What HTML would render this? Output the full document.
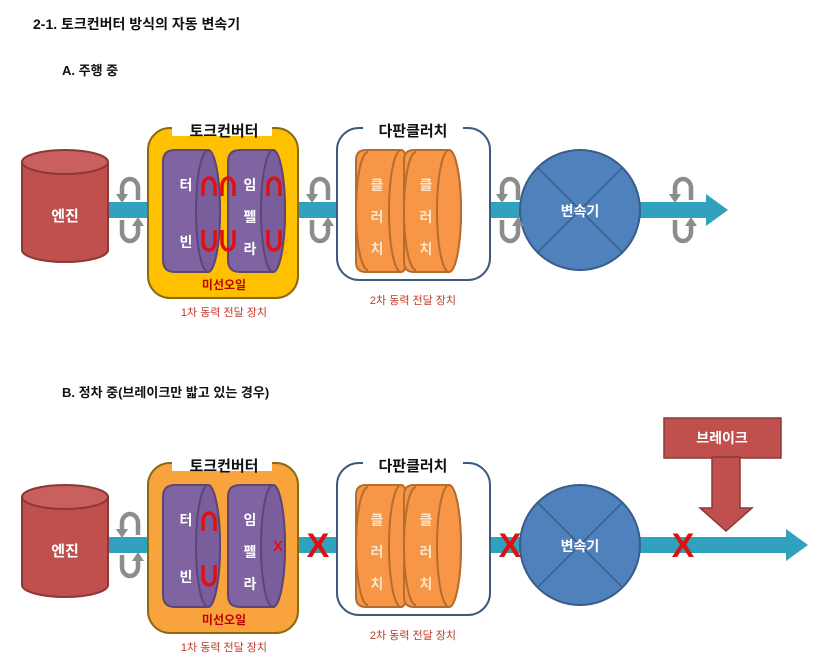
<!DOCTYPE html>
<html><head><meta charset="utf-8"><style>
body{margin:0;background:#fff;}
svg{display:block;font-family:"Liberation Sans","Noto Sans CJK KR",sans-serif;}
</style></head><body>
<svg width="823" height="667" viewBox="0 0 823 667" xmlns="http://www.w3.org/2000/svg">
<defs>
<g id="curl">
 <path d="M8,-10 L8,-22 A8,9 0 0 0 -8,-22 L-8,-16" fill="none" stroke="#8c8c8c" stroke-width="4.5"/>
 <path d="M-14,-16 L-8,-7 L-2,-16z" fill="#8c8c8c"/>
 <path d="M-8,10 L-8,22 A8,9 0 0 0 8,22 L8,16" fill="none" stroke="#8c8c8c" stroke-width="4.5"/>
 <path d="M2,16 L8,7 L14,16z" fill="#8c8c8c"/>
</g>
<g id="engine">
 <path d="M22,162 L22,250 A43,12 0 0 0 108,250 L108,162z" fill="#c0504d" stroke="#8c3836" stroke-width="2"/>
 <ellipse cx="65" cy="162" rx="43" ry="12" fill="#c9605d" stroke="#8c3836" stroke-width="2"/>
 <text x="65" y="221" fill="#fff" font-size="15" font-weight="bold" text-anchor="middle">엔진</text>
</g>
<g id="disc">
 <path d="M12,0 L45,0 A12,61 0 0 1 45,122 L12,122 Q0,122 0,110 L0,12 Q0,0 12,0z" fill="#8064a2" stroke="#5c4677" stroke-width="2"/>
 <ellipse cx="45" cy="61" rx="12" ry="61" fill="#7a5e9c" stroke="#5c4677" stroke-width="2"/>
</g>
<g id="cdisc">
 <path d="M10,0 L45,0 A12,61 0 0 1 45,122 L10,122 Q0,122 0,112 L0,10 Q0,0 10,0z" fill="#f79646" stroke="#b66d2d" stroke-width="2"/>
 <path d="M12,2 A12,59 0 0 0 12,120" fill="none" stroke="#b66d2d" stroke-width="2"/>
 <ellipse cx="45" cy="61" rx="12" ry="61" fill="#f79646" stroke="#b66d2d" stroke-width="2"/>
</g>
<g id="clutchbox">
 <rect x="337" y="128" width="153" height="152" rx="22" fill="#fff" stroke="#3c5a7e" stroke-width="2"/>
 <rect x="363" y="120" width="100" height="16" fill="#fff"/>
 <text x="413" y="136" font-size="15" font-weight="bold" text-anchor="middle" fill="#111">다판클러치</text>
 <use href="#cdisc" x="356" y="150"/>
 <use href="#cdisc" x="404" y="150"/>
 <g fill="#fde4cc" font-size="14" font-weight="bold" text-anchor="middle">
 <text x="377" y="190">클</text><text x="377" y="222">러</text><text x="377" y="254">치</text>
 <text x="426" y="190">클</text><text x="426" y="222">러</text><text x="426" y="254">치</text></g>
 <text x="413" y="304" font-size="11" fill="#c0392b" text-anchor="middle">2차 동력 전달 장치</text>
</g>
<g id="trans">
 <circle cx="580" cy="210" r="60" fill="#4f81bd" stroke="#385d8a" stroke-width="2"/>
 <path d="M538,168 L622,252 M622,168 L538,252" stroke="#385d8a" stroke-width="1.5"/>
 <text x="580" y="216" font-size="14" font-weight="bold" fill="#fff" text-anchor="middle">변속기</text>
</g>
</defs>

<text x="33" y="29" font-size="14" font-weight="bold" fill="#111">2-1. 토크컨버터 방식의 자동 변속기</text>
<text x="62" y="75" font-size="13" font-weight="bold" fill="#111">A. 주행 중</text>
<text x="62" y="397" font-size="13" font-weight="bold" fill="#111">B. 정차 중(브레이크만 밟고 있는 경우)</text>

<!-- A -->
<g>
 <rect x="108" y="202" width="600" height="16" fill="#31a2bd"/>
 <path d="M706,194 L728,210 L706,226z" fill="#31a2bd"/>
 <use href="#engine"/>
 <rect x="148" y="128" width="150" height="170" rx="22" fill="#ffc000" stroke="#8a6a10" stroke-width="2"/>
 <rect x="172" y="120" width="100" height="16" fill="#fff"/>
 <text x="224" y="136" font-size="15" font-weight="bold" text-anchor="middle" fill="#111">토크컨버터</text>
 <use href="#disc" x="163" y="150"/>
 <use href="#disc" x="228" y="150"/>
 <g fill="#fff" font-size="14" font-weight="bold" text-anchor="middle">
 <text x="186" y="190">터</text><text x="186" y="247">빈</text>
 <text x="250" y="190">임</text><text x="250" y="222">펠</text><text x="250" y="254">라</text></g>
 <g fill="none" stroke="#e01010" stroke-width="3.5">
 <path d="M203,196 L203,186 A6,8 0 0 1 215,186 L215,196"/>
 <path d="M203,230 L203,242 A6,8 0 0 0 215,242 L215,230"/>
 <path d="M222,196 L222,186 A6,8 0 0 1 234,186 L234,196"/>
 <path d="M222,230 L222,242 A6,8 0 0 0 234,242 L234,230"/>
 <path d="M268,196 L268,186 A6,8 0 0 1 280,186 L280,196"/>
 <path d="M268,230 L268,242 A6,8 0 0 0 280,242 L280,230"/>
 </g>
 <text x="224" y="289" font-size="12" font-weight="bold" fill="#c00000" text-anchor="middle">미선오일</text>
 <text x="224" y="316" font-size="11" fill="#c0392b" text-anchor="middle">1차 동력 전달 장치</text>
 <use href="#clutchbox"/>
 <use href="#trans"/>
 <use href="#curl" x="130" y="210"/>
 <use href="#curl" x="320" y="210"/>
 <use href="#curl" x="510" y="210"/>
 <use href="#curl" x="683" y="210"/>
</g>

<!-- B -->
<g transform="translate(0,335)">
 <rect x="108" y="202" width="680" height="16" fill="#31a2bd"/>
 <path d="M786,194 L808,210 L786,226z" fill="#31a2bd"/>
 <use href="#engine"/>
 <rect x="148" y="128" width="150" height="170" rx="22" fill="#f8a33c" stroke="#8a6a10" stroke-width="2"/>
 <rect x="172" y="120" width="100" height="16" fill="#fff"/>
 <text x="224" y="136" font-size="15" font-weight="bold" text-anchor="middle" fill="#111">토크컨버터</text>
 <use href="#disc" x="163" y="150"/>
 <use href="#disc" x="228" y="150"/>
 <g fill="#fff" font-size="14" font-weight="bold" text-anchor="middle">
 <text x="186" y="190">터</text><text x="186" y="247">빈</text>
 <text x="250" y="190">임</text><text x="250" y="222">펠</text><text x="250" y="254">라</text></g>
 <g fill="none" stroke="#e01010" stroke-width="3.5">
 <path d="M203,196 L203,186 A6,8 0 0 1 215,186 L215,196"/>
 <path d="M203,230 L203,242 A6,8 0 0 0 215,242 L215,230"/>
 </g>
 <text x="278" y="216" font-size="15" font-weight="bold" fill="#e01010" text-anchor="middle">X</text>
 <text x="224" y="289" font-size="12" font-weight="bold" fill="#c00000" text-anchor="middle">미선오일</text>
 <text x="224" y="316" font-size="11" fill="#c0392b" text-anchor="middle">1차 동력 전달 장치</text>
 <use href="#clutchbox"/>
 <use href="#trans"/>
 <use href="#curl" x="130" y="210"/>
 <g fill="#e01010" font-size="34" font-weight="bold" text-anchor="middle">
 <text x="318" y="222">X</text><text x="510" y="222">X</text><text x="683" y="222">X</text></g>
</g>
<!-- brake -->
<rect x="664" y="418" width="117" height="40" fill="#c0504d" stroke="#8c3836" stroke-width="1.5"/>
<text x="722" y="443" font-size="14" font-weight="bold" fill="#fff" text-anchor="middle">브레이크</text>
<path d="M712,457 L740,457 L740,508 L752,508 L726,531 L700,508 L712,508z" fill="#c0504d" stroke="#8c3836" stroke-width="1.5"/>
</svg>
</body></html>
